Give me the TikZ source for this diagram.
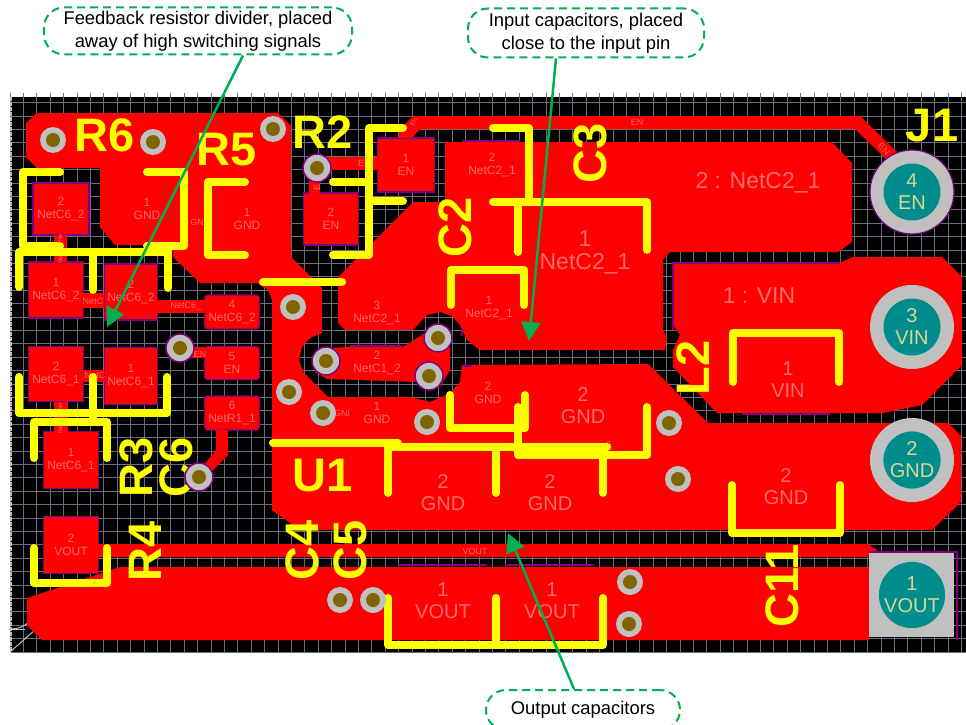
\documentclass[tikz,border=0pt]{standalone}
\usepackage{fontspec}
\setmainfont{Liberation Sans}
\usetikzlibrary{arrows.meta}
\definecolor{boardRed}{HTML}{ff0000}
\definecolor{silkYellow}{HTML}{ffff00}
\definecolor{padPurple}{HTML}{800080}
\definecolor{labelPink}{HTML}{ff6c6c}
\definecolor{viaGrey}{HTML}{c0c0c0}
\definecolor{holeBrown}{HTML}{806400}
\definecolor{headTeal}{HTML}{008c8c}
\definecolor{headText}{HTML}{d8d890}
\definecolor{noteGreen}{HTML}{00b050}
\definecolor{gridGrey}{HTML}{6c6c7c}
\tikzset{
    copper/.style={fill=boardRed, draw=none},
    smdPad/.style={rectangle, draw=padPurple, fill=boardRed, line width=1.2pt, inner sep=0pt, align=center, text=labelPink, font=\fontsize{12}{13}\selectfont},
    padEdge/.style={draw=padPurple, line width=1.2pt},
    smallLabel/.style={inner sep=0pt, align=center, text=labelPink, font=\fontsize{12}{13}\selectfont},
    largeLabel/.style={inner sep=0pt, align=center, text=labelPink, font=\fontsize{20}{22}\selectfont},
    wideLabel/.style={inner sep=0pt, align=center, text=labelPink, font=\fontsize{23}{23}\selectfont},
    netLabel/.style={inner sep=0pt, text=labelPink, font=\fontsize{9}{9}\selectfont},
    tinyLabel/.style={inner sep=0pt, text=labelPink, font=\fontsize{6}{6}\selectfont},
    silkLine/.style={draw=silkYellow, line width=8pt, line cap=round, line join=round},
    silkText/.style={inner sep=0pt, text=silkYellow, font=\fontsize{47}{47}\selectfont\bfseries},
    viaRing/.style={circle, fill=viaGrey, minimum size=26pt, inner sep=0pt},
    viaNet/.style={circle, fill=viaGrey, draw=padPurple, line width=1.5pt, minimum size=28pt, inner sep=0pt},
    viaHole/.style={circle, fill=holeBrown, minimum size=14pt, inner sep=0pt},
    headRing/.style={circle, fill=viaGrey, minimum size=84pt, inner sep=0pt},
    headPad/.style={circle, fill=headTeal, minimum size=57pt, inner sep=0pt, align=center, text=headText, font=\fontsize{20}{22}\selectfont},
    noteBox/.style={rectangle, draw=noteGreen, fill=white, line width=2pt, dash pattern=on 8pt off 5pt, rounded corners=20pt, align=center, inner sep=0pt, font=\fontsize{18.4}{23}\selectfont},
    noteArrow/.style={draw=noteGreen, line width=2.5pt, -{Triangle[length=19pt,width=19pt]}}
}
\newcommand{\silklabel}[5]{\node (#1) [silkText, rotate=#4] at (#2,#3) {#5};}
\begin{document}
\begin{tikzpicture}[x=1pt, y=-1pt]
    \useasboundingbox (0,0) rectangle (966,725);
    \fill [black] (11,97) rectangle (966,652);

    \foreach \gx in {0,...,71}
        \draw [gridGrey, line width=0.7pt] ({10+13.4*\gx},93) -- ({10+13.4*\gx},652);
    \foreach \gy in {0,...,41}
        \draw [gridGrey, line width=0.7pt] (11,{102.6+13.4*\gy}) -- (966,{102.6+13.4*\gy});
    \draw [viaGrey, line width=1.5pt, dash pattern=on 4pt off 1pt] (11,97) -- (11,652);
    \draw [viaGrey, line width=1pt] (8,629) -- (25,629);
    \draw [viaGrey, line width=1pt] (11,629) arc (90:0:25 and 23);
    \draw [viaGrey, line width=1pt] (35,630) -- (10,652);

    \path [copper] (37,113) -- (278,113) -- (291,126) -- (291,257) -- (322,288) -- (322,333) -- (310,338) -- (302,347) -- (299,360) -- (303,372) -- (328,397) -- (410,397) -- (430,402) -- (450,393) -- (460,382) -- (462,365) -- (648,364) -- (708,423) -- (948,423) -- (961,436) -- (961,502) -- (932,530) -- (300,530) -- (272,510) -- (272,300) -- (268,290) -- (257,283) -- (200,283) -- (173,257) -- (173,245) -- (115,245) -- (100,227) -- (100,168) -- (37,168) -- (26,157) -- (26,123) -- cycle;
    \path [copper] (413,202) -- (445,202) -- (445,142) -- (832,142) -- (852,163) -- (852,242) -- (838,252) -- (670,252) -- (663,260) -- (663,330) -- (667,338) -- (665,350) -- (480,350) -- (467,340) -- (460,325) -- (452,316) -- (440,312) -- (427,315) -- (413,330) -- (345,330) -- (338,323) -- (338,277) -- cycle;
    \path [copper] (673,263) -- (840,263) -- (853,257) -- (942,257) -- (962,277) -- (962,365) -- (922,405) -- (883,413) -- (717,413) -- (673,367) -- (673,350) -- (680,335) -- (673,325) -- cycle;
    \path [copper] (120,567) -- (869,567) -- (869,640) -- (42,640) -- (27,625) -- (27,598) -- cycle;
    \path [copper] (318,349) -- (347,347) -- (403,347) -- (425,333) -- (438,325) -- (450,340) -- (450,370) -- (440,387) -- (417,382) -- (327,379) -- (315,372) -- cycle;
    \draw [padEdge] (673,330) -- (673,263) -- (840,263);
    \draw [padEdge] (742,414) -- (830,414);
    \draw [padEdge] (398,565) -- (487,565);
    \draw [padEdge] (505,565) -- (594,565);
    \draw [padEdge] (462,141) -- (520,141);
    \draw [padEdge] (350,346) -- (403,346);
    \draw [padEdge] (462,328) -- (462,336);
    \draw [padEdge] (463,366) -- (472,366);

    \node (pad_c6_a) [smdPad, minimum width=56pt, minimum height=52pt] at (61,209) {2\\NetC6\_2};
    \node (pad_c6_b) [smdPad, minimum width=55pt, minimum height=56pt] at (56,290) {1\\NetC6\_2};
    \node (pad_c6_c) [smdPad, minimum width=53pt, minimum height=56pt] at (131,292) {2\\NetC6\_2};
    \node (pad_c6_d) [smdPad, minimum width=55pt, minimum height=55pt] at (56,374) {2\\NetC6\_1};
    \node (pad_c6_e) [smdPad, minimum width=53pt, minimum height=57pt] at (131,376) {1\\NetC6\_1};
    \node (pad_c6_f) [smdPad, minimum width=55pt, minimum height=57pt] at (71,460) {1\\NetC6\_1};
    \node (pad_r4) [smdPad, minimum width=55pt, minimum height=57pt] at (71,545) {2\\VOUT};
    \node (pad_u4) [smdPad, rounded corners=3pt, minimum width=55pt, minimum height=34pt] at (232,312) {4\\NetC6\_2};
    \node (pad_u5) [smdPad, rounded corners=3pt, minimum width=55pt, minimum height=33pt] at (232,363) {5\\EN};
    \node (pad_u6) [smdPad, rounded corners=3pt, minimum width=55pt, minimum height=34pt] at (232,413) {6\\NetR1\_1};
    \node (pad_en_a) [smdPad, minimum width=57pt, minimum height=54pt] at (406,165) {1\\EN};
    \node (pad_en_b) [smdPad, minimum width=55pt, minimum height=52pt] at (331,219) {2\\EN};

    \fill [boardRed] (54,235) rectangle (67,262);
    \fill [boardRed] (54,402) rectangle (68,432);
    \fill [boardRed] (83,293) rectangle (104,308);
    \fill [boardRed] (157,300) rectangle (205,313);
    \fill [boardRed] (83,370) rectangle (104,382);
    \fill [boardRed] (98,544) -- (868,544) -- (881,553) -- (870,557) -- (98,557) -- cycle;
    \fill [boardRed] (180,347) rectangle (205,358);
    \fill [boardRed] (216,430) -- (228,430) -- (228,455) -- (210,473) -- (203,466) -- (216,450) -- cycle;
    \fill [boardRed] (317,157) rectangle (379,170);
    \fill [boardRed] (309,178) rectangle (320,194);
    \fill [boardRed] (413,116) -- (860,116) -- (897,152) -- (887,160) -- (855,129) -- (420,129) -- (412,138) -- (399,138) -- (399,130) -- cycle;

    \node (label_gnd_a) [smallLabel] at (147,209) {1\\GND};
    \node (label_gnd_b) [smallLabel] at (247,219) {1\\GND};
    \node (label_gnd_c) [smallLabel] at (377,413) {1\\GND};
    \node (label_gnd_d) [smallLabel] at (488,393) {2\\GND};
    \node (label_c2_a) [smallLabel] at (492,165) {2\\NetC2\_1};
    \node (label_c2_b) [smallLabel] at (377,313) {3\\NetC2\_1};
    \node (label_c2_c) [smallLabel] at (489,308) {1\\NetC2\_1};
    \node (label_c1) [smallLabel] at (377,363) {2\\NetC1\_2};
    \node (label_big_c2) [wideLabel] at (585,252) {1\\NetC2\_1};
    \node (label_big_gnd_a) [largeLabel] at (583,406) {2\\GND};
    \node (label_big_gnd_b) [largeLabel] at (443,493) {2\\GND};
    \node (label_big_gnd_c) [largeLabel] at (550,493) {2\\GND};
    \node (label_big_gnd_d) [largeLabel] at (786,487) {2\\GND};
    \node (label_big_vout_a) [largeLabel] at (443,601) {1\\VOUT};
    \node (label_big_vout_b) [largeLabel] at (552,601) {1\\VOUT};
    \node (label_big_vin) [largeLabel] at (788,380) {1\\VIN};
    \node (label_net_c2) [wideLabel] at (758,183) {2 : NetC2\_1};
    \node (label_net_vin) [wideLabel] at (759,296) {1 : VIN};
    \node (net_en_a) [netLabel] at (637,122) {EN};
    \node (net_en_b) [netLabel, rotate=-45] at (884,149) {EN};
    \node (net_en_c) [tinyLabel, rotate=60] at (414,122) {EN};
    \node (net_en_d) [netLabel] at (200,354) {EN};
    \node (net_en_e) [netLabel] at (361,163) {E};
    \node (net_en_f) [netLabel, rotate=90] at (317,187) {E};
    \node (net_gn_a) [netLabel] at (197,222) {GN};
    \node (net_gn_b) [netLabel] at (342,413) {GNI};
    \node (net_c6_a) [netLabel] at (93,301) {NetC};
    \node (net_c6_b) [netLabel] at (186,306) {NetC6\_};
    \node (net_c6_c) [netLabel] at (95,375) {NetC};
    \node (net_c6_d) [tinyLabel, rotate=90] at (60,238) {Ne};
    \node (net_c6_e) [tinyLabel, rotate=90] at (60,260) {Ne};
    \node (net_c6_f) [tinyLabel, rotate=90] at (60,407) {Ne};
    \node (net_c6_g) [tinyLabel, rotate=90] at (60,430) {Ne};
    \node (net_vout) [netLabel] at (475,551) {VOUT};
    \node (net_six) [netLabel] at (609,444) {6};

    \draw [silkLine] (60,172) -- (23,172) -- (23,246) -- (60,246);
    \draw [silkLine] (147,172) -- (184,172) -- (184,246) -- (147,246);
    \draw [silkLine] (245,182) -- (208,182) -- (208,255) -- (245,255);
    \draw [silkLine] (19,287) -- (19,252) -- (168,252) -- (168,288);
    \draw [silkLine] (93,252) -- (93,290);
    \draw [silkLine] (19,377) -- (19,413) -- (167,413) -- (167,377);
    \draw [silkLine] (93,377) -- (93,422);
    \draw [silkLine] (34,458) -- (34,422) -- (107,422) -- (107,458);
    \draw [silkLine] (34,548) -- (34,583) -- (107,583) -- (107,548);
    \draw [silkLine] (403,128) -- (369,128) -- (369,255) -- (333,255);
    \draw [silkLine] (333,182) -- (369,182);
    \draw [silkLine] (369,201) -- (403,201);
    \draw [silkLine] (493,128) -- (529,128) -- (529,202);
    \draw [silkLine] (493,202) -- (647,202) -- (647,250);
    \draw [silkLine] (518,202) -- (518,252);
    \draw [silkLine] (451,305) -- (451,270) -- (524,270) -- (524,305);
    \draw [silkLine] (263,282) -- (342,282);
    \draw [silkLine] (273,443) -- (398,443);
    \draw [silkLine] (388,447) -- (607,447);
    \draw [silkLine] (388,447) -- (388,493);
    \draw [silkLine] (496,447) -- (496,493);
    \draw [silkLine] (603,447) -- (603,493);
    \draw [silkLine] (647,407) -- (647,455) -- (518,455) -- (518,407);
    \draw [silkLine] (525,395) -- (525,428) -- (450,428) -- (450,395);
    \draw [silkLine] (733,382) -- (733,333) -- (839,333) -- (839,382);
    \draw [silkLine] (732,485) -- (732,533) -- (840,533) -- (840,485);
    \draw [silkLine] (388,598) -- (388,645) -- (603,645) -- (603,598);
    \draw [silkLine] (496,598) -- (496,645);

    \silklabel{silk_r6}{105}{135}{0}{R6}
    \silklabel{silk_r5}{227}{150}{0}{R5}
    \silklabel{silk_r2}{323}{132}{0}{R2}
    \silklabel{silk_j1}{932}{126}{0}{J1}
    \silklabel{silk_u1}{323}{476}{0}{U1}
    \silklabel{silk_c3}{590}{153}{90}{C3}
    \silklabel{silk_c2}{455}{227}{90}{C2}
    \silklabel{silk_r3}{136}{467}{90}{R3}
    \silklabel{silk_c6}{176}{467}{90}{C6}
    \silklabel{silk_r4}{145}{551}{90}{R4}
    \silklabel{silk_c4}{302}{550}{90}{C4}
    \silklabel{silk_c5}{350}{550}{90}{C5}
    \silklabel{silk_c11}{782}{586}{90}{C11}
    \silklabel{silk_l2}{693}{368}{90}{L2}

    \foreach \i/\vx/\vy in {1/53/140,2/153/142,3/273/129,4/293/307,5/289/392,6/323/413,7/427/422,8/340/600,9/373/600,10/669/423,11/678/479,12/630/582,13/629/624} {
        \node (via_\i) [viaRing] at (\vx,\vy) {};
        \node (hole_\i) [viaHole] at (via_\i) {};
    }
    \foreach \i/\vx/\vy in {1/317/168,2/180/348,3/326/361,4/438/338,5/429/376,6/199/477} {
        \node (via_net_\i) [viaNet] at (\vx,\vy) {};
        \node (hole_net_\i) [viaHole] at (via_net_\i) {};
    }

    \node (j1_ring_4) [headRing, draw=padPurple, line width=1.2pt] at (912,192) {};
    \node (j1_ring_3) [headRing] at (912,327) {};
    \node (j1_ring_2) [headRing] at (912,460) {};
    \node (j1_square) [rectangle, fill=viaGrey, minimum width=85pt, minimum height=84pt, inner sep=0pt] at (911.5,595) {};
    \draw [padEdge] (869,552) -- (957,552) -- (957,640);
    \node (j1_pad_4) [headPad] at (912,192) {4\\EN};
    \node (j1_pad_3) [headPad] at (912,327) {3\\VIN};
    \node (j1_pad_2) [headPad] at (912,460) {2\\GND};
    \node (j1_pad_1) [headPad] at (912,595) {1\\VOUT};

    \node (note_feedback) [noteBox, minimum width=308pt, minimum height=47pt] at (198,31) {Feedback resistor divider, placed\\away of high switching signals};
    \node (note_input) [noteBox, minimum width=236pt, minimum height=49pt] at (586,33) {Input capacitors, placed\\close to the input pin};
    \node (note_output) [noteBox, minimum width=194pt, minimum height=40pt] at (583,710) {Output capacitors};

    \coordinate (tip_feedback) at (107,327);
    \coordinate (tip_input) at (529,341);
    \coordinate (tip_output) at (508,533);
    \draw [noteArrow] ([xshift=45pt]note_feedback.south) -- (tip_feedback);
    \draw [noteArrow] ([xshift=-30pt]note_input.south) -- (tip_input);
    \draw [noteArrow] ([xshift=-9pt]note_output.north) -- (tip_output);
\end{tikzpicture}
\end{document}
